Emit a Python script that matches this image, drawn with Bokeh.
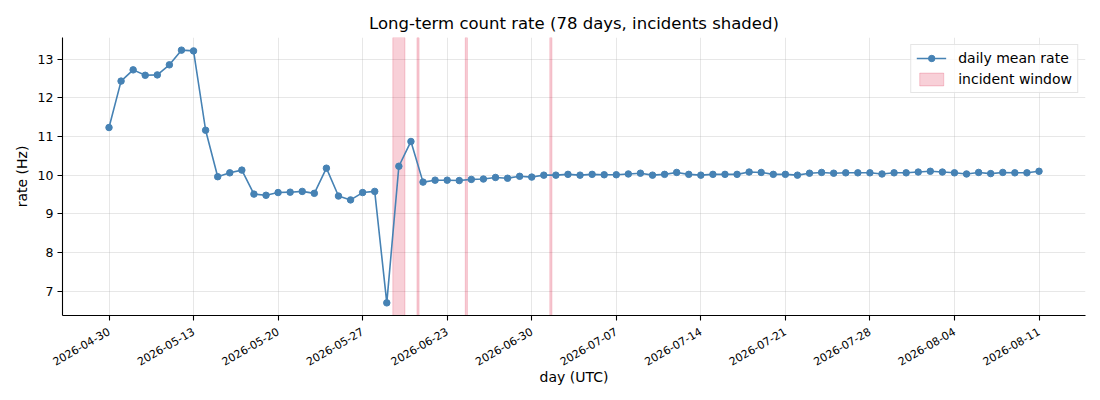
import numpy as np
from bokeh.plotting import figure
from bokeh.models import Range1d, FixedTicker, ColumnDataSource
from bokeh.embed import file_html
from bokeh.resources import INLINE

# ---- data ----
rate = [11.23, 12.43, 12.72, 12.58, 12.59, 12.85, 13.23, 13.21, 11.16, 9.96,
        10.06, 10.13, 9.51, 9.48, 9.55, 9.56, 9.58, 9.53, 10.18, 9.46,
        9.36, 9.55, 9.58, 6.70, 10.23, 10.87, 9.82, 9.87, 9.87, 9.86,
        9.89, 9.90, 9.94, 9.92, 9.97, 9.95, 10.00, 10.00, 10.02, 10.00,
        10.02, 10.01, 10.01, 10.03, 10.05, 10.00, 10.02, 10.07, 10.02, 10.00,
        10.02, 10.02, 10.02, 10.08, 10.07, 10.02, 10.02, 10.00, 10.05, 10.07,
        10.05, 10.06, 10.06, 10.06, 10.03, 10.06, 10.06, 10.08, 10.10, 10.08,
        10.06, 10.03, 10.07, 10.04, 10.07, 10.06, 10.06, 10.10]
day = list(range(len(rate)))

tick_days = [0, 7, 14, 21, 28, 35, 42, 49, 56, 63, 70, 77]
tick_labels = ["2026-04-30", "2026-05-13", "2026-05-20", "2026-05-27",
               "2026-06-23", "2026-06-30", "2026-07-07", "2026-07-14",
               "2026-07-21", "2026-07-28", "2026-08-04", "2026-08-11"]
y_ticks = [7, 8, 9, 10, 11, 12, 13]

incident_start = [23.5, 25.5, 29.5, 36.5]
incident_end = [24.5, 25.67, 29.67, 36.67]

# ---- ranges (matplotlib-like 5% margins) ----
xmin, xmax = min(day), max(day)
xpad = 0.05 * (xmax - xmin)
ymin, ymax = min(rate), max(rate)
ypad = 0.05 * (ymax - ymin)

FONT = "DejaVu Sans"

p = figure(width=1100, height=400, output_backend="svg", toolbar_location=None,
           x_range=Range1d(xmin - xpad, xmax + xpad),
           y_range=Range1d(ymin - ypad, ymax + ypad),
           min_border_left=62, min_border_right=15,
           min_border_top=37, min_border_bottom=85,
           title="Long-term count rate (78 days, incidents shaded)")
p.outline_line_color = None
p.background_fill_color = "white"
p.border_fill_color = "white"

p.title.align = "center"
p.title.text_font = FONT
p.title.text_font_size = "16.5px"
p.title.text_font_style = "normal"
p.title.text_color = "black"

# incident windows
inc = ColumnDataSource(dict(left=incident_start, right=incident_end,
                            bottom=[ymin - ypad] * len(incident_start),
                            top=[ymax + ypad] * len(incident_start)))
p.quad(left="left", right="right", bottom="bottom", top="top", source=inc,
       fill_color="crimson", fill_alpha=0.2, line_color="crimson",
       line_alpha=0.2, line_width=1, legend_label="incident window")

src = ColumnDataSource(dict(day=day, rate=rate))
p.line("day", "rate", source=src, line_color="#4682b4", line_width=1.6,
       legend_label="daily mean rate")
p.scatter("day", "rate", source=src, size=6.5, fill_color="#4682b4",
          line_color="#4682b4", legend_label="daily mean rate")

# axes
xa = p.xaxis[0]
xa.ticker = FixedTicker(ticks=tick_days)
xa.major_label_overrides = {d: l for d, l in zip(tick_days, tick_labels)}
xa.major_label_orientation = np.pi / 6
xa.axis_label = "day (UTC)"
xa.major_label_text_font_size = "11px"

ya = p.yaxis[0]
ya.ticker = FixedTicker(ticks=y_ticks)
ya.axis_label = "rate (Hz)"
ya.major_label_text_font_size = "12.5px"

for ax in (xa, ya):
    ax.axis_line_color = "black"
    ax.axis_line_width = 1.1
    ax.major_tick_line_color = "black"
    ax.major_tick_line_width = 1.1
    ax.major_tick_out = 5
    ax.major_tick_in = 0
    ax.minor_tick_line_color = None
    ax.major_label_text_font = FONT
    ax.major_label_text_color = "black"
    ax.axis_label_text_font = FONT
    ax.axis_label_text_font_size = "14px"
    ax.axis_label_text_font_style = "normal"
    ax.axis_label_text_color = "black"
    ax.major_label_standoff = 4
xa.major_label_standoff = 10
xa.axis_label_standoff = -3

p.xgrid.ticker = FixedTicker(ticks=tick_days)
p.ygrid.ticker = FixedTicker(ticks=y_ticks)
for g in (p.xgrid[0], p.ygrid[0]):
    g.grid_line_color = "#b0b0b0"
    g.grid_line_alpha = 0.3
    g.grid_line_width = 1

lg = p.legend[0]
lg.items = [lg.items[1], lg.items[0]]
lg.location = "top_right"
lg.margin = 7
lg.padding = 5
lg.spacing = 5
lg.glyph_width = 30
lg.glyph_height = 16
lg.label_height = 16
lg.label_standoff = 12
lg.label_text_font = FONT
lg.label_text_font_size = "14px"
lg.label_text_color = "black"
lg.border_line_color = "#cccccc"
lg.border_line_width = 1
lg.background_fill_color = "white"
lg.background_fill_alpha = 0.8

open("out.html", "w").write(file_html(p, INLINE))
